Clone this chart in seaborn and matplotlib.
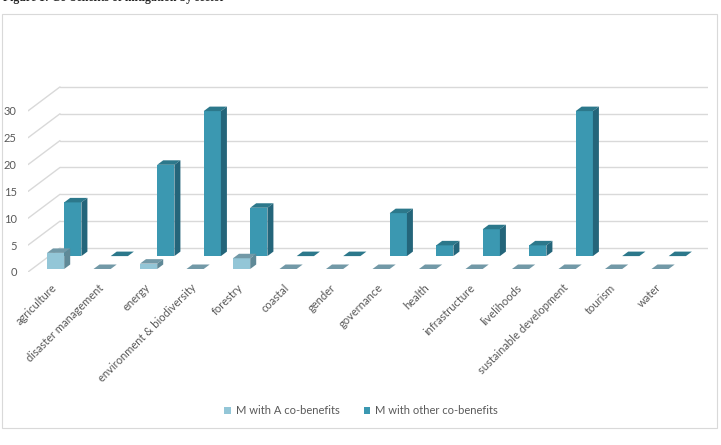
import numpy as np
import pandas as pd
import matplotlib
matplotlib.use("Agg")
import matplotlib.pyplot as plt
from matplotlib.patches import Polygon, Rectangle
from matplotlib.transforms import ScaledTranslation
import seaborn as sns

# data
sectors = ['agriculture', 'disaster management', 'energy', 'environment & biodiversity',
           'forestry', 'coastal', 'gender', 'governance', 'health', 'infrastructure',
           'livelihoods', 'sustainable development', 'tourism', 'water']
a_cobenefits = [3, 0, 1, 0, 2, 0, 0, 0, 0, 0, 0, 0, 0, 0]
other_cobenefits = [10, 0, 17, 27, 9, 0, 0, 8, 2, 5, 2, 27, 0, 0]
series_names = ['M with A co-benefits', 'M with other co-benefits']
y_ticks = [0, 5, 10, 15, 20, 25, 30]

df = pd.DataFrame({
    'sector': sectors * 2,
    'series': [series_names[0]] * len(sectors) + [series_names[1]] * len(sectors),
    'count': a_cobenefits + other_cobenefits,
})

sns.set_theme(style='white')
plt.rcParams['font.family'] = ['Lato', 'DejaVu Sans']

W, H = 721, 445
PX_X = 46.5   # px per category
PX_Y = 5.37   # px per unit
BAR_W = 0.74

# colours: front face, top face, side face
faces = {
    0: ('#93c6d7', '#7299a7', '#5f8997'),
    1: ('#3b98b1', '#2c788b', '#24657a'),
}
# fake depth: each row sits a bit higher than the front edge
lifts = [3 / PX_Y, 3 / PX_Y + 0.75 * (BAR_W / 2 * PX_X) / PX_Y]
ddx, ddy = 6 / PX_X, 4.5 / PX_Y   # depth of one bar
wall_dy = 24 / PX_Y               # back wall lift


def xd(px):
    # pixel column -> x data value
    return (px - 47) / PX_X - BAR_W / 2


fig = plt.figure(figsize=(W / 100, H / 100), dpi=100)
ax = fig.add_axes([28 / W, (H - 272) / H, 680 / W, 40 * PX_Y / H])

sns.barplot(data=df, x='sector', y='count', hue='series', order=sectors,
            hue_order=series_names, palette=[faces[0][0], faces[1][0]],
            width=BAR_W, dodge=True, saturation=1, errorbar=None,
            linewidth=0, ax=ax)

ax.set_xlim(xd(28), xd(708))
ax.set_ylim(0, 40)

# grid: back wall and side wall
grid_c = '#d9d9d9'
for v in y_ticks:
    ax.plot([xd(60), xd(708)], [v + wall_dy, v + wall_dy], color=grid_c, lw=1, zorder=0.5)
    ax.plot([xd(28), xd(60)], [v, v + wall_dy], color=grid_c, lw=1, zorder=0.5)

# 3d look: back row first, then front row
for idx in (1, 0):
    front, top, side = faces[idx]
    z = 2 if idx == 1 else 3
    for p in ax.containers[idx]:
        p.set_y(lifts[idx])
        p.set_zorder(z)
        x0, y0, w, h = p.get_x(), p.get_y(), p.get_width(), p.get_height()
        ax.add_patch(Polygon([(x0, y0 + h), (x0 + w, y0 + h), (x0 + w + ddx, y0 + h + ddy),
                              (x0 + ddx, y0 + h + ddy)], closed=True, fc=top, lw=0, zorder=z))
        if h > 0:
            ax.add_patch(Polygon([(x0 + w, y0), (x0 + w + ddx, y0 + ddy),
                                  (x0 + w + ddx, y0 + h + ddy), (x0 + w, y0 + h)],
                                 closed=True, fc=side, lw=0, zorder=z))

ax.set_yticks(y_ticks)
ax.set_yticklabels([str(v) for v in y_ticks])
ax.tick_params(axis='y', length=0, pad=8, labelsize=8, labelcolor='#595959')
ax.tick_params(axis='x', length=0, pad=10, labelsize=8, labelcolor='#595959')
ax.set_xticks(range(len(sectors)))
ax.set_xticklabels(sectors, rotation=45, ha='right', va='center', rotation_mode='anchor')
shift = ScaledTranslation(-9 / 100, 0, fig.dpi_scale_trans)
for lab in ax.get_xticklabels():
    lab.set_transform(lab.get_transform() + shift)
ax.set_xlabel('')
ax.set_ylabel('')
for s in ax.spines.values():
    s.set_visible(False)
ax.patch.set_alpha(0)

sns.move_legend(ax, 'center', bbox_to_anchor=(361 / W, 1 - 411 / H),
                bbox_transform=fig.transFigure, ncol=2, frameon=False, title=None,
                fontsize=8, handlelength=0.6, handleheight=0.6, handletextpad=0.4,
                columnspacing=2.2, labelcolor='#595959')

# chart frame and the caption that is cut off at the top
fig.add_artist(Rectangle((2 / W, 1 - 428 / H), 715 / W, 414 / H, transform=fig.transFigure,
                         fill=False, edgecolor='#d9d9d9', lw=0.8))
fig.text(3 / W, 1 - 1.5 / H, 'Figure 1: Co-benefits of mitigation by sector',
         family='Liberation Serif', weight='bold', fontsize=8.5, va='baseline', color='#222222')

fig.savefig('out.png', dpi=100)
